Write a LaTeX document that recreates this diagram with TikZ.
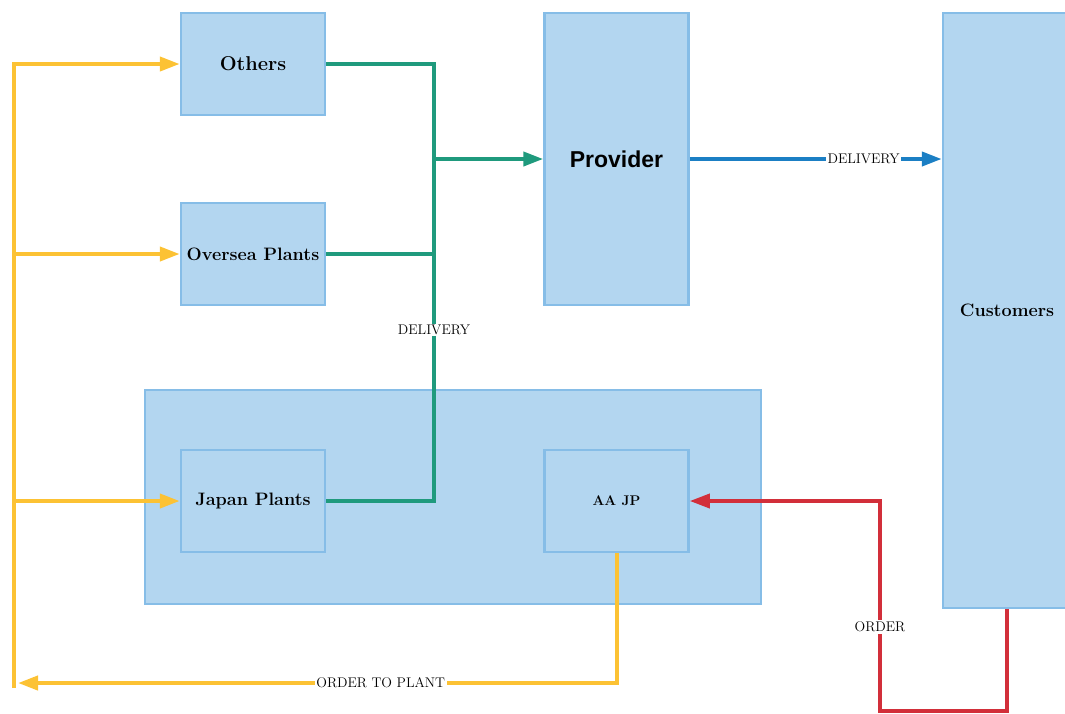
\documentclass[tikz,border=0pt]{standalone}
\usepackage{fontspec}
\newfontfamily\sansbold{Liberation Sans}
\usetikzlibrary{calc,positioning,arrows.meta}
\definecolor{boxfill}{HTML}{B3D6F0}
\definecolor{boxline}{HTML}{86BDE7}
\definecolor{flowgreen}{HTML}{1F9A7D}
\definecolor{flowyellow}{HTML}{FCC234}
\definecolor{flowblue}{HTML}{1B7FC4}
\definecolor{flowred}{HTML}{D22F3A}

\tikzset{
  unit/.style={draw=boxline, fill=boxfill, line width=2.5pt, minimum width=144pt, minimum height=102pt,
    inner sep=2pt, font=\bfseries\fontsize{18}{21}\selectfont},
  flowlabel/.style={fill=white, inner sep=1.5pt, font=\fontsize{14}{16}\selectfont},
  flowtip/.style={-{Triangle[length=20pt,width=14pt]}},
  greenline/.style={draw=flowgreen, line width=4pt},
  yellowline/.style={draw=flowyellow, line width=4pt},
  blueline/.style={draw=flowblue, line width=4pt},
  redline/.style={draw=flowred, line width=3.5pt},
}

\begin{document}
\begin{tikzpicture}[x=1pt, y=-1pt]
  \useasboundingbox (0,0) rectangle (1065,713);

  % group of Japanese units
  \node[draw=boxline, fill=boxfill, line width=2.5pt, minimum width=616pt, minimum height=214pt] (japan) at (453,497) {};

  \node[unit, font=\bfseries\fontsize{20}{24}\selectfont] (others) at (253,64) {Others};
  \node[unit] (oversea) at (253,254) {Oversea Plants};
  \node[unit] (japanplants) at (253,501) {Japan Plants};
  \node[unit, font=\bfseries\fontsize{14}{16}\selectfont] (aajp) at (616.5,501) {AA JP};
  \node[unit, minimum height=292pt, font=\sansbold\bfseries\fontsize{23}{26}\selectfont] (provider) at (616.5,159) {Provider};
  \node[unit, minimum width=128pt, minimum height=595pt] (customers) at (1007,310.5) {Customers};

  % delivery to provider
  \coordinate (bus) at (434,159);
  \draw[greenline] (others.east) -| (bus |- japanplants.east) -- (japanplants.east);
  \draw[greenline] (oversea.east) -- (bus |- oversea.east);
  \draw[greenline, flowtip] (bus) -- (provider.west);
  \node[flowlabel] (plantdelivery) at (434,330) {DELIVERY};

  % delivery to customers
  \draw[blueline, flowtip] (provider.east) -- node[flowlabel, pos=0.69] (custdelivery) {DELIVERY} (customers.west |- provider.east);

  % customer order
  \coordinate (ordercorner) at (880,711);
  \draw[redline, flowtip] (customers.south) |- (ordercorner) |- node[flowlabel, pos=0.2] (order) {ORDER} (aajp.east);

  % order to plants
  \coordinate (orderbus) at (18,683);
  \coordinate (feed) at (14,688);
  \draw[yellowline, flowtip] (aajp.south) |- node[flowlabel, pos=0.697] (plantorder) {ORDER TO PLANT} (orderbus);
  \draw[yellowline, flowtip] (feed) |- (others.west);
  \draw[yellowline, flowtip] (feed |- oversea.west) -- (oversea.west);
  \draw[yellowline, flowtip] (feed |- japanplants.west) -- (japanplants.west);
\end{tikzpicture}
\end{document}
